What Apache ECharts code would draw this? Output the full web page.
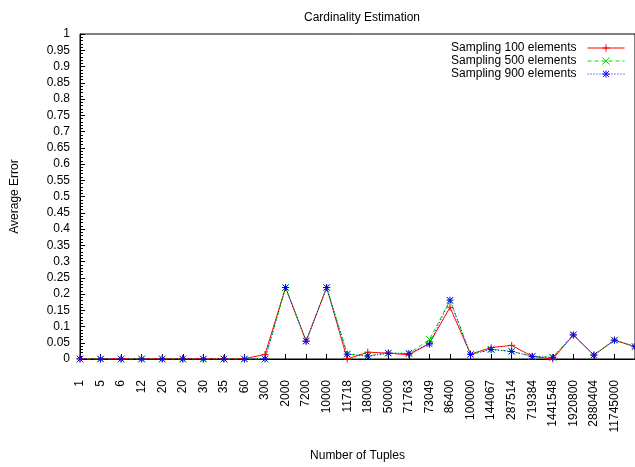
<!DOCTYPE html>
<html>
<head>
<meta charset="utf-8">
<script src="https://cdn.jsdelivr.net/npm/echarts@6/dist/echarts.min.js"></script>
<style>html,body{margin:0;padding:0;background:#fff}#c{width:635px;height:467px}</style>
</head>
<body>
<div id="c"></div>
<script>
var categories = ['1','5','6','12','20','20','30','35','60','300','2000','7200','10000','11718','18000','50000','71763','73049','86400','100000','144067','287514','719384','1441548','1920800','2880404','11745000',''];
var seriesNames = ['Sampling 100 elements','Sampling 500 elements','Sampling 900 elements'];
var s100 = [0.001,0.001,0.001,0.001,0.001,0.001,0.001,0.001,0.001,0.014,0.22,0.055,0.22,0.0,0.021,0.018,0.013,0.048,0.159,0.015,0.035,0.042,0.008,0.0,0.074,0.012,0.058,0.038];
var s500 = [0.0,0.0,0.0,0.0,0.0,0.0,0.0,0.0,0.0,0.0,0.22,0.055,0.22,0.015,0.01,0.018,0.017,0.06,0.18,0.014,0.03,0.024,0.008,0.005,0.075,0.012,0.058,0.038];
var s900 = [0.0,0.0,0.0,0.0,0.0,0.0,0.0,0.0,0.0,0.0,0.22,0.055,0.22,0.015,0.009,0.018,0.017,0.046,0.181,0.014,0.029,0.023,0.008,0.005,0.074,0.012,0.058,0.038];

var FONT = '"Liberation Sans", Arial, sans-serif';
var plusPath = 'path://M0,5L10,5M5,0L5,10';
var crossPath = 'path://M0,0L10,10M10,0L0,10';
var starPath = 'path://M0,5L10,5M5,0L5,10M1,1L9,9M9,1L1,9';

function mk(name, data, color, type, sym) {
  return {
    name: name, type: 'line', data: data,
    symbol: sym, symbolSize: 7, showSymbol: true,
    lineStyle: {color: color, width: 1, type: type},
    itemStyle: {color: color, borderColor: color, borderWidth: 1, borderType: 'solid'},
    animation: false
  };
}

var chart = echarts.init(document.getElementById('c'), null, {renderer: 'canvas'});
chart.setOption({
  backgroundColor: '#fff',
  animation: false,
  textStyle: {fontFamily: FONT, color: '#000'},
  title: {
    text: 'Cardinality Estimation', left: 357, top: 7, textAlign: 'center',
    textStyle: {fontSize: 12, fontWeight: 'normal', color: '#000', fontFamily: FONT}
  },
  legend: {
    orient: 'vertical', right: 5, top: 37, align: 'right',
    itemWidth: 37, itemHeight: 9, itemGap: 1,
    itemStyle: {borderType: 'solid', borderWidth: 1},
    lineStyle: {width: 1},
    textStyle: {fontSize: 12, lineHeight: 12, color: '#000', fontFamily: FONT, padding: [0, 6, 0, 0]},
    data: seriesNames
  },
  grid: {left: 80, width: 561, top: 34, bottom: 106, show: true, borderColor: '#000', borderWidth: 1, containLabel: false},
  xAxis: {
    type: 'category', data: categories, boundaryGap: false,
    name: 'Number of Tuples', nameLocation: 'middle', nameGap: 91,
    nameTextStyle: {fontSize: 12, color: '#000', fontFamily: FONT},
    axisLine: {lineStyle: {color: '#000', width: 1}},
    axisTick: {show: true, inside: true, length: 5, lineStyle: {color: '#000'}},
    axisLabel: {rotate: 90, margin: 21, fontSize: 12, color: '#000', fontFamily: FONT, interval: 0},
    splitLine: {show: false}
  },
  yAxis: {
    type: 'value', min: 0, max: 1, interval: 0.05,
    name: 'Average Error', nameLocation: 'middle', nameGap: 59,
    nameTextStyle: {fontSize: 12, color: '#000', fontFamily: FONT},
    axisLine: {show: true, lineStyle: {color: '#000', width: 1}},
    axisTick: {show: true, inside: true, length: 5, lineStyle: {color: '#000'}},
    minorTick: {show: true, splitNumber: 5, length: 3, lineStyle: {color: '#000'}},
    axisLabel: {margin: 10, fontSize: 12, color: '#000', fontFamily: FONT},
    splitLine: {show: false}
  },
  series: [
    mk(seriesNames[0], s100, '#ff0000', 'solid', plusPath),
    mk(seriesNames[1], s500, '#00e000', [4, 3], crossPath),
    mk(seriesNames[2], s900, '#0000ff', [1, 2], starPath)
  ]
});
</script>
</body>
</html>
